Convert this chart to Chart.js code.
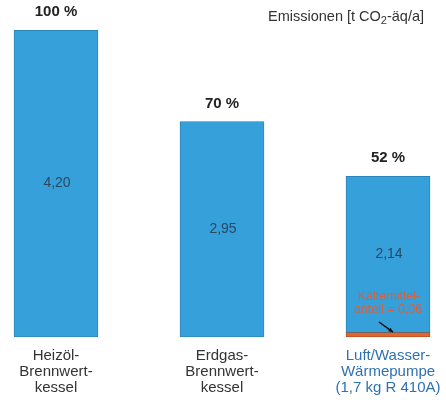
<!DOCTYPE html>
<html><head><meta charset="utf-8">
<script src="https://cdn.jsdelivr.net/npm/chart.js@4.4.0/dist/chart.umd.min.js"></script>
<style>html,body{margin:0;padding:0;background:#fff}#wrap{width:446px;height:400px;position:relative}</style>
</head><body><div id="wrap"><canvas id="c"></canvas></div>
<script>
const categories = [["Heizöl-","Brennwert-","kessel"],["Erdgas-","Brennwert-","kessel"],["Luft/Wasser-","Wärmepumpe","(1,7 kg R 410A)"]];
const mainValues = [4.20, 2.95, 2.14];
const refrigerantValues = [0, 0, 0.06];
const valueLabels = ["4,20", "2,95", "2,14"];
const percentLabels = ["100 %", "70 %", "52 %"];
const unitTitleParts = ["Emissionen [t CO", "2", "-äq/a]"];
const refrigerantNote = ["Kältemittel-", "anteil = 0,06"];

const FONT = "'Liberation Sans', Arial, sans-serif";
const labelPlugin = {
  id: 'labels',
  afterDatasetsDraw(chart) {
    const ctx = chart.ctx, x = chart.scales.x, y = chart.scales.y;
    ctx.save();
    ctx.textAlign = 'center';
    ctx.textBaseline = 'middle';
    categories.forEach((cat, i) => {
      const cx = x.getPixelForValue(i);
      const total = mainValues[i] + refrigerantValues[i];
      const top = y.getPixelForValue(total);
      ctx.fillStyle = '#222';
      ctx.font = 'bold 15px ' + FONT;
      ctx.fillText(percentLabels[i], cx, top - 18);
      const mid = y.getPixelForValue(refrigerantValues[i] + mainValues[i] / 2);
      ctx.fillStyle = '#2b4863';
      ctx.font = '14px ' + FONT;
      ctx.fillText(valueLabels[i], cx + 1, mid);
      ctx.fillStyle = i === 2 ? '#2f72b0' : '#333';
      ctx.font = '15px ' + FONT;
      cat.forEach((line, k) => ctx.fillText(line, cx, y.getPixelForValue(0) + 19 + k * 16));
    });
    // refrigerant note
    const cx3 = x.getPixelForValue(2);
    const base = y.getPixelForValue(0);
    ctx.fillStyle = '#de5f36';
    ctx.font = '12.5px ' + FONT;
    ctx.fillText(refrigerantNote[0], cx3 + 1, base - 40);
    ctx.fillText(refrigerantNote[1], cx3, base - 27);
    ctx.strokeStyle = '#111';
    ctx.fillStyle = '#111';
    ctx.lineWidth = 1.5;
    const x0 = cx3 - 9, y0 = base - 15, x1 = cx3 + 5, y1 = y.getPixelForValue(refrigerantValues[2]) - 0.5;
    ctx.beginPath(); ctx.moveTo(x0, y0); ctx.lineTo(x1, y1); ctx.stroke();
    const ang = Math.atan2(y1 - y0, x1 - x0);
    ctx.beginPath();
    ctx.moveTo(x1, y1);
    ctx.lineTo(x1 - 5 * Math.cos(ang - 0.45), y1 - 5 * Math.sin(ang - 0.45));
    ctx.lineTo(x1 - 5 * Math.cos(ang + 0.45), y1 - 5 * Math.sin(ang + 0.45));
    ctx.closePath(); ctx.fill();
    // title with subscript
    ctx.textAlign = 'left';
    ctx.textBaseline = 'alphabetic';
    ctx.fillStyle = '#333';
    const big = '14.5px ' + FONT, small = '11px ' + FONT;
    ctx.font = big; const w0 = ctx.measureText(unitTitleParts[0]).width;
    ctx.font = small; const w1 = ctx.measureText(unitTitleParts[1]).width;
    ctx.font = big; const w2 = ctx.measureText(unitTitleParts[2]).width;
    let tx = 424 - (w0 + w1 + w2);
    const ty = 21;
    ctx.font = big; ctx.fillText(unitTitleParts[0], tx, ty); tx += w0;
    ctx.font = small; ctx.fillText(unitTitleParts[1], tx, ty + 3); tx += w1;
    ctx.font = big; ctx.fillText(unitTitleParts[2], tx, ty);
    ctx.restore();
  }
};

new Chart(document.getElementById('c'), {
  type: 'bar',
  data: {
    labels: categories.map(c => c.join(' ')),
    datasets: [
      { data: refrigerantValues, backgroundColor: '#e0662e', borderColor: '#a8481f', borderWidth: 0.8, barThickness: 84, clip: false, borderSkipped: false },
      { data: mainValues, backgroundColor: '#36a0da', borderColor: '#2a7cae', borderWidth: 0.8, barThickness: 84, clip: false, borderSkipped: false }
    ]
  },
  options: {
    responsive: true, maintainAspectRatio: false, animation: false,
    layout: { padding: { left: 56, right: 58, top: 1, bottom: 63 } },
    plugins: { legend: { display: false }, tooltip: { enabled: false } },
    scales: {
      x: { display: false, stacked: true, offset: false },
      y: { display: false, stacked: true, min: 0, max: 4.6 }
    }
  },
  plugins: [labelPlugin]
});
</script></body></html>
